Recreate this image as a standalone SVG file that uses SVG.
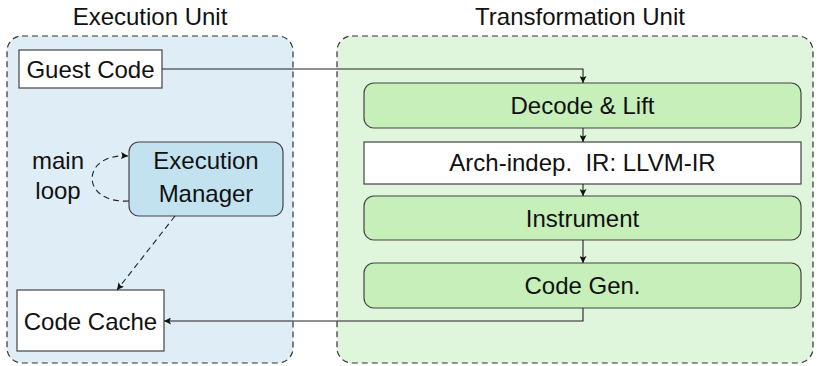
<svg xmlns="http://www.w3.org/2000/svg" width="817" height="366" viewBox="0 0 817 366">
<defs>
<marker id="ah" viewBox="0 0 10 10" refX="10" refY="5" markerWidth="7" markerHeight="7" markerUnits="userSpaceOnUse" orient="auto">
<path d="M0,0 L10,5 L0,10 L2,5 Z" fill="#111"/>
</marker>
<style>
text{font-family:"Liberation Sans",Arial,sans-serif;font-size:24px;fill:#111;text-anchor:middle}
.cont{stroke:#333;stroke-width:1.2;stroke-dasharray:6,4}
.box{stroke:#444;stroke-width:1.2}
.green{fill:#c6efba}
.white{fill:#ffffff}
.conn{fill:none;stroke:#222;stroke-width:1.1}
.dash{stroke-dasharray:6,4}
</style>
</defs>
<g id="execution-unit">
<rect class="cont" x="7" y="36" width="286" height="327" rx="15" fill="#deedf6"/>
<text x="150" y="25">Execution Unit</text>
</g>
<g id="transformation-unit">
<rect class="cont" x="337" y="36" width="476" height="327" rx="15" fill="#e0f6dc"/>
<text x="580" y="25">Transformation Unit</text>
</g>
<g id="guest-code">
<rect class="box white" x="19" y="50" width="143" height="38"/>
<text x="90.5" y="77.5">Guest Code</text>
</g>
<g id="execution-manager">
<rect class="box" x="129" y="142" width="154" height="74" rx="10" fill="#c3e2f0"/>
<text x="206" y="169">Execution</text>
<text x="206" y="202">Manager</text>
</g>
<g id="main-loop">
<text x="58" y="169">main</text>
<text x="58" y="199">loop</text>
</g>
<g id="code-cache">
<rect class="box white" x="17" y="290" width="147" height="61"/>
<text x="90.5" y="329.5">Code Cache</text>
</g>
<g id="decode-lift">
<rect class="box green" x="364" y="83" width="437" height="45" rx="10"/>
<text x="582.5" y="114">Decode &amp; Lift</text>
</g>
<g id="arch-ir">
<rect class="box white" x="364" y="142" width="437" height="42"/>
<text x="582.5" y="171" xml:space="preserve">Arch-indep.  IR: LLVM-IR</text>
</g>
<g id="instrument">
<rect class="box green" x="364" y="196" width="437" height="44" rx="10"/>
<text x="582.5" y="226.5">Instrument</text>
</g>
<g id="code-gen">
<rect class="box green" x="364" y="263" width="437" height="45" rx="10"/>
<text x="582.5" y="294">Code Gen.</text>
</g>
<g id="connectors">
<path class="conn" d="M162,69 H583 V83" marker-end="url(#ah)"/>
<path class="conn" d="M583,128 V142" marker-end="url(#ah)"/>
<path class="conn" d="M583,184 V196" marker-end="url(#ah)"/>
<path class="conn" d="M583,240 V263" marker-end="url(#ah)"/>
<path class="conn" d="M583,308 V321 H164" marker-end="url(#ah)"/>
<path class="conn dash" d="M175,216 L117,290" marker-end="url(#ah)"/>
<path class="conn dash" stroke="#555" d="M129,201 C80,204 80,153 128,156" marker-end="url(#ah)"/>
</g>
</svg>
